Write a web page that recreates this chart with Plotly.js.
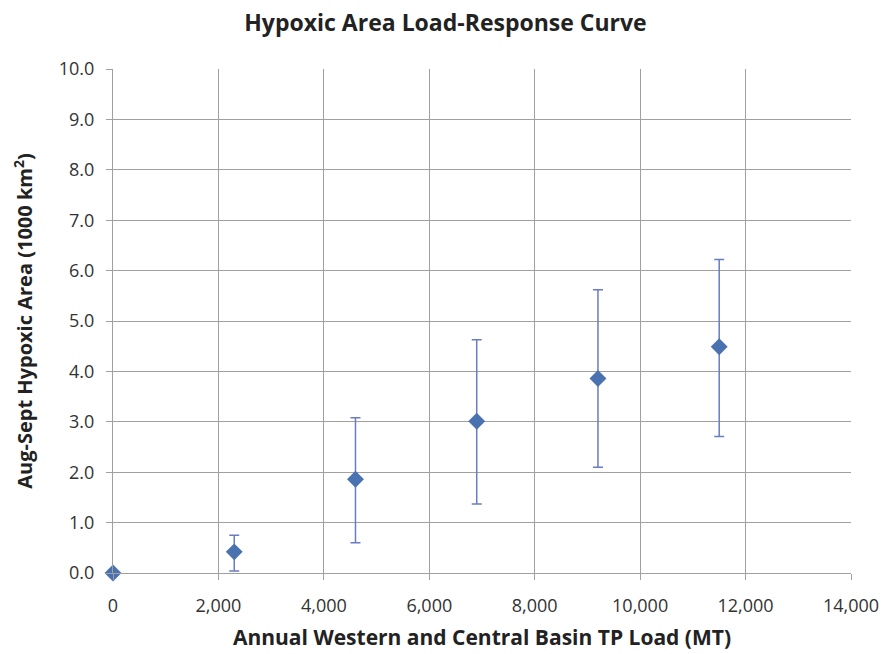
<!DOCTYPE html>
<html>
<head>
<meta charset="utf-8">
<script src="https://cdn.plot.ly/plotly-3.0.1.min.js"></script>
<style>html,body{margin:0;padding:0;background:#fff;}#chart{width:891px;height:654px;}</style>
</head>
<body>
<div id="chart"></div>
<script>
const loads = [0, 2300, 4600, 6900, 9200, 11500];
const hypoxicArea = [0.0, 0.42, 1.86, 3.01, 3.86, 4.49];
const upperBound = [0.0, 0.75, 3.08, 4.63, 5.62, 6.22];
const lowerBound = [0.0, 0.04, 0.60, 1.37, 2.10, 2.71];
const xTicks = [0, 2000, 4000, 6000, 8000, 10000, 12000, 14000];
const xTickLabels = ["0", "2,000", "4,000", "6,000", "8,000", "10,000", "12,000", "14,000"];
const yTicks = [0,1,2,3,4,5,6,7,8,9,10];
const yTickLabels = ["0.0","1.0","2.0","3.0","4.0","5.0","6.0","7.0","8.0","9.0","10.0"];

const errPlus = upperBound.map((u, i) => u - hypoxicArea[i]);
const errMinus = lowerBound.map((l, i) => hypoxicArea[i] - l);

const trace = {
  x: loads,
  y: hypoxicArea,
  type: 'scatter',
  mode: 'markers',
  cliponaxis: false,
  marker: {symbol: 'diamond', size: 13, color: '#4a72b0'},
  error_y: {type: 'data', symmetric: false, array: errPlus, arrayminus: errMinus,
            color: '#6a7cc4', thickness: 1.5, width: 5}
};

const fontFam = '"Open Sans", "Noto Sans", "Liberation Sans", sans-serif';
const layout = {
  width: 891, height: 654,
  margin: {l: 113, r: 40, t: 69, b: 81},
  paper_bgcolor: '#fff', plot_bgcolor: '#fff',
  showlegend: false,
  font: {family: fontFam, color: '#333', size: 19},
  title: {text: '<b>Hypoxic Area Load-Response Curve</b>', x: 0.5, xanchor: 'center',
          y: 0.965, yanchor: 'middle', font: {family: fontFam, size: 23, color: '#222'}},
  xaxis: {
    range: [0, 14000], tickvals: xTicks, ticktext: xTickLabels,
    showgrid: true, gridcolor: '#a0a0a0', gridwidth: 1,
    zeroline: false, showline: true, linecolor: '#a0a0a0',
    ticks: 'outside', ticklen: 6, tickcolor: '#a0a0a0',
    ticklabelstandoff: 10,
    tickfont: {size: 18, color: '#333'},
    title: {text: '<b>Annual Western and Central Basin TP Load (MT)</b>', standoff: 14,
            font: {size: 21, color: '#222'}}
  },
  yaxis: {
    range: [0, 10], tickvals: yTicks, ticktext: yTickLabels,
    showgrid: true, gridcolor: '#a0a0a0', gridwidth: 1,
    zeroline: false, showline: true, linecolor: '#a0a0a0',
    ticks: 'outside', ticklen: 6, tickcolor: '#a0a0a0',
    ticklabelstandoff: 8,
    tickfont: {size: 18, color: '#333'},
    title: {text: '<b>Aug-Sept Hypoxic Area (1000 km<sup>2</sup>)</b>', standoff: 20,
            font: {size: 20, color: '#222'}}
  }
};

Plotly.newPlot('chart', [trace], layout, {displayModeBar: false, staticPlot: true});
</script>
</body>
</html>
